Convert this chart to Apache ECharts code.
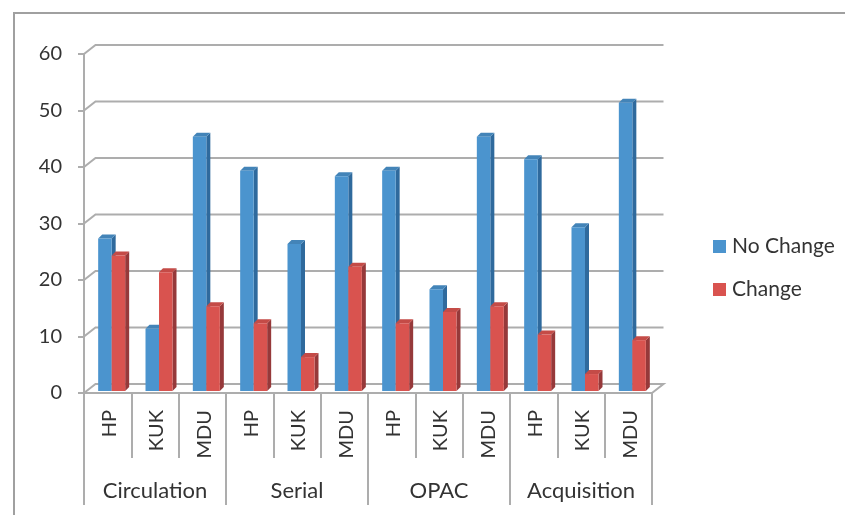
<!DOCTYPE html>
<html>
<head>
<meta charset="utf-8">
<style>
  html, body { margin: 0; background: #fff; }
  #chart { width: 845px; height: 515px; }
</style>
<script src="https://cdn.jsdelivr.net/npm/echarts@6/dist/echarts.min.js"></script>
</head>
<body>
<div id="chart"></div>
<script>
const groups = ["Circulation", "Serial", "OPAC", "Acquisition"];
const libraries = ["HP", "KUK", "MDU", "HP", "KUK", "MDU", "HP", "KUK", "MDU", "HP", "KUK", "MDU"];
const noChange = [27, 11, 45, 39, 26, 38, 39, 18, 45, 41, 29, 51];
const change = [24, 21, 15, 12, 6, 22, 12, 14, 15, 10, 3, 9];
const yTicks = [0, 10, 20, 30, 40, 50, 60];

const fontName = "Lato";
const gridColor = "#adadad";
const textColor = "#333";
// fake 3d: how far the back wall sits from the front plane
const depthX = 11.5, depthY = 9;
const barW = 13.5, barDX = 4, barDY = 4, barLift = 2;

const chart = echarts.init(document.getElementById("chart"));

// back wall lines and the little slants joining them to the axis
function renderWall(params, api) {
  const p = api.coord([0, api.value(0)]);
  const rect = params.coordSys;
  const x0 = rect.x, x1 = rect.x + rect.width, y = p[1];
  const points = [[x0, y], [x0 + depthX, y - depthY], [x1 + depthX, y - depthY]];
  if (api.value(0) === 0) points.push([x1, y]);
  return {
    type: "polyline",
    shape: { points: points },
    style: { fill: null, stroke: gridColor, lineWidth: 2 }
  };
}

function barRenderer(side, front, sideColor, topColor) {
  return function (params, api) {
    const base = api.coord([api.value(0), 0]);
    const top = api.coord([api.value(0), api.value(1)]);
    const xl = base[0] + barDX + (side < 0 ? -barW : 0);
    const xr = xl + barW;
    const yt = top[1] - barLift, yb = base[1] - barLift;
    return {
      type: "group",
      children: [
        { type: "polygon", shape: { points: [[xr, yt], [xr + barDX, yt - barDY], [xr + barDX, yb - barDY], [xr, yb]] }, style: { fill: sideColor } },
        { type: "polygon", shape: { points: [[xl, yt], [xl + barDX, yt - barDY], [xr + barDX, yt - barDY], [xr, yt]] }, style: { fill: topColor } },
        { type: "rect", shape: { x: xl, y: yt, width: barW, height: yb - yt }, style: { fill: front } }
      ]
    };
  };
}

chart.setOption({
  animation: false,
  backgroundColor: "#fff",
  textStyle: { fontFamily: fontName },
  graphic: [{
    type: "polyline",
    silent: true,
    shape: { points: [[14, 515], [14, 13], [845, 13]] },
    style: { fill: null, stroke: "#a0a0a0", lineWidth: 2 }
  }],
  legend: {
    orient: "vertical",
    left: 708,
    top: 231,
    itemWidth: 13,
    itemHeight: 13,
    itemGap: 22,
    icon: "rect",
    data: ["No Change", "Change"],
    textStyle: { fontSize: 21, color: textColor, fontFamily: fontName, padding: [0, 0, 0, 1] }
  },
  grid: { left: 84, right: 193, top: 54, height: 339 },
  xAxis: [
    {
      type: "category",
      data: libraries,
      axisLine: { lineStyle: { color: gridColor, width: 2 } },
      axisTick: { show: true, alignWithLabel: false, length: 65, lineStyle: { color: gridColor, width: 2 } },
      axisLabel: { interval: 0, rotate: 90, margin: 17, fontSize: 20, color: textColor, lineHeight: 4, verticalAlign: "top" }
    },
    {
      type: "category",
      position: "bottom",
      data: groups,
      axisLine: { show: false },
      axisTick: { show: true, length: 112, lineStyle: { color: gridColor, width: 2 } },
      axisLabel: { interval: 0, margin: 87, fontSize: 22, color: textColor }
    }
  ],
  yAxis: {
    type: "value",
    min: 0,
    max: 60,
    interval: 10,
    axisLine: { show: true, lineStyle: { color: gridColor, width: 2 } },
    axisTick: { show: true, length: 6, lineStyle: { color: gridColor, width: 2 } },
    splitLine: { show: false },
    axisLabel: { margin: 22, fontSize: 20, color: textColor }
  },
  series: [
    {
      name: "wall",
      type: "custom",
      silent: true,
      renderItem: renderWall,
      encode: { x: 0, y: 0 },
      data: yTicks.map(function (v) { return [v]; }),
      z: 1
    },
    {
      name: "No Change",
      type: "custom",
      renderItem: barRenderer(-1, "#4b94ce", "#2f6a9d", "#4384b8"),
      itemStyle: { color: "#4b94ce" },
      encode: { x: 0, y: 1 },
      data: noChange.map(function (v, i) { return [i, v]; }),
      z: 2
    },
    {
      name: "Change",
      type: "custom",
      renderItem: barRenderer(1, "#d9534f", "#96393a", "#c44b47"),
      itemStyle: { color: "#d9534f" },
      encode: { x: 0, y: 1 },
      data: change.map(function (v, i) { return [i, v]; }),
      z: 3
    }
  ]
});
</script>
</body>
</html>
